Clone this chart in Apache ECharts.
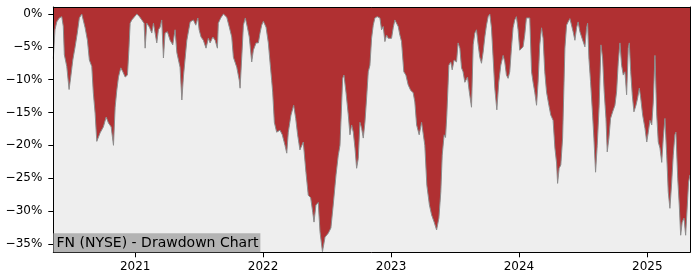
<!DOCTYPE html>
<html>
<head>
<meta charset="utf-8">
<script src="https://cdn.jsdelivr.net/npm/echarts@6/dist/echarts.min.js"></script>
<style>html,body{margin:0;padding:0;background:#fff;}#c{width:700px;height:280px;}</style>
</head>
<body>
<div id="c"></div>
<script>
// Dates as decimal years
var dateYears = [2020.362,2020.375,2020.389,2020.409,2020.428,2020.440,2020.448,2020.467,2020.485,2020.498,2020.514,2020.532,2020.549,2020.565,2020.584,2020.596,2020.610,2020.628,2020.643,2020.662,2020.674,2020.688,2020.701,2020.727,2020.752,2020.774,2020.792,2020.813,2020.831,2020.844,2020.857,2020.870,2020.888,2020.904,2020.922,2020.940,2020.951,2020.961,2020.974,2020.987,
2021.013,2021.034,2021.052,2021.070,2021.078,2021.091,2021.112,2021.130,2021.143,2021.156,2021.169,2021.182,2021.195,2021.208,2021.221,2021.234,2021.252,2021.273,2021.294,2021.312,2021.326,2021.351,2021.365,2021.377,2021.404,2021.430,2021.455,2021.474,2021.490,2021.500,2021.515,2021.533,2021.554,2021.572,2021.586,2021.607,2021.625,2021.643,2021.650,2021.669,2021.690,2021.716,2021.736,2021.755,2021.768,2021.794,2021.814,2021.820,2021.836,2021.846,2021.861,2021.877,2021.892,2021.911,2021.924,2021.945,2021.963,2021.976,2021.989,
2022.002,2022.023,2022.041,2022.054,2022.067,2022.075,2022.088,2022.106,2022.132,2022.150,2022.171,2022.185,2022.197,2022.218,2022.239,2022.255,2022.270,2022.288,2022.302,2022.314,2022.335,2022.353,2022.372,2022.388,2022.398,2022.413,2022.431,2022.445,2022.464,2022.484,2022.509,2022.530,2022.548,2022.570,2022.587,2022.601,2022.622,2022.632,2022.648,2022.666,2022.679,2022.692,2022.705,2022.718,2022.731,2022.744,2022.757,2022.770,2022.783,2022.796,2022.809,2022.822,2022.835,2022.848,2022.861,2022.874,2022.892,2022.913,2022.926,2022.939,2022.952,2022.965,2022.978,2022.991,
2023.004,2023.017,2023.030,2023.043,2023.056,2023.069,2023.082,2023.100,2023.116,2023.134,2023.153,2023.173,2023.186,2023.200,2023.220,2023.239,2023.251,2023.264,2023.280,2023.300,2023.317,2023.337,2023.356,2023.374,2023.389,2023.400,2023.415,2023.426,2023.436,2023.452,2023.467,2023.478,2023.493,2023.512,2023.524,2023.538,2023.551,2023.563,2023.577,2023.598,2023.610,2023.629,2023.642,2023.655,2023.668,2023.681,2023.694,2023.707,2023.720,2023.733,2023.746,2023.759,2023.772,2023.785,2023.798,2023.811,2023.827,2023.842,2023.858,2023.876,2023.889,2023.902,2023.915,2023.928,2023.941,2023.954,2023.967,2023.980,2023.993,
2024.006,2024.019,2024.032,2024.045,2024.058,2024.071,2024.084,2024.098,2024.110,2024.123,2024.137,2024.149,2024.162,2024.176,2024.188,2024.201,2024.215,2024.233,2024.248,2024.266,2024.280,2024.293,2024.301,2024.313,2024.326,2024.340,2024.350,2024.358,2024.371,2024.383,2024.397,2024.410,2024.422,2024.436,2024.449,2024.461,2024.475,2024.488,2024.500,2024.514,2024.527,2024.535,2024.545,2024.558,2024.574,2024.584,2024.597,2024.610,2024.625,2024.639,2024.652,2024.664,2024.678,2024.688,2024.701,2024.714,2024.730,2024.748,2024.761,2024.774,2024.787,2024.800,2024.813,2024.826,2024.839,2024.852,2024.860,2024.871,2024.883,2024.896,2024.912,2024.925,2024.938,2024.949,2024.964,2024.982,2024.996,
2025.008,2025.021,2025.035,2025.047,2025.060,2025.074,2025.086,2025.099,2025.113,2025.125,2025.138,2025.152,2025.164,2025.177,2025.191,2025.203,2025.216,2025.224,2025.238,2025.250,2025.261,2025.273,2025.287,2025.300,2025.313,2025.323,2025.334];

// Drawdown, percent
var drawdown = [-6.8,-2.4,-1.2,-0.6,-0.4,-1.9,-6.2,-8.0,-11.5,-9.6,-7.0,-5.0,-2.9,-0.6,0,-0.2,-2.1,-4.0,-7.0,-8.0,-12.0,-15.1,-19.4,-18.1,-17.2,-15.7,-16.6,-17.2,-20.0,-14.2,-11.6,-9.6,-8.2,-8.8,-9.6,-9.3,-5.5,-1.4,-0.9,-1.2,
0,-0.4,-0.9,-1.4,-5.2,-1.4,-2.0,-2.9,-1.4,-1.4,-4.4,-2.4,-2.0,-0.9,-6.7,-2.9,-2.7,-4.0,-4.7,-2.4,-5.9,-8.1,-13.1,-9.6,-4.0,-1.2,-0.9,-1.7,-0.6,-2.4,-3.5,-4.0,-5.2,-3.7,-4.4,-3.5,-4.0,-5.2,-1.4,-0.6,0,-0.5,-2.0,-3.5,-6.6,-8.1,-10.1,-11.3,-5.5,-1.7,-0.6,-2.0,-3.5,-7.3,-5.5,-4.4,-4.4,-2.9,-1.7,
-1.1,-2.0,-4.4,-7.3,-10.1,-11.9,-16.5,-18.0,-17.7,-18.4,-20.0,-21.2,-18.0,-15.4,-13.9,-15.9,-18.4,-20.7,-21.0,-19.5,-24.1,-27.6,-28.0,-30.2,-31.7,-29.1,-28.7,-33.2,-36.2,-34.0,-33.4,-32.6,-29.1,-24.5,-21.6,-20.0,-9.8,-9.3,-11.9,-15.4,-18.4,-16.9,-18.0,-20.4,-23.5,-22.0,-16.5,-17.4,-18.9,-16.5,-12.8,-8.8,-7.8,-3.7,-1.7,-0.6,-0.4,-0.6,-2.4,-1.9,-4.2,-3.2,-3.7,-3.5,
-3.7,-2.1,-0.9,-0.6,-1.9,-3.2,-4.2,-8.8,-9.3,-10.8,-11.6,-12.0,-13.4,-16.9,-18.4,-16.5,-16.2,-20.0,-26.1,-29.1,-30.6,-31.7,-32.9,-31.1,-27.1,-21.5,-18.4,-18.8,-15.4,-7.8,-7.3,-8.5,-7.0,-7.3,-4.4,-5.2,-8.2,-8.8,-10.4,-9.6,-11.6,-14.2,-4.7,-2.9,-2.4,-4.7,-6.6,-7.5,-5.8,-3.5,-1.7,-0.4,0,-2.1,-6.7,-11.3,-14.6,-10.4,-7.8,-6.3,-7.3,-9.3,-9.8,-8.8,-5.2,-2.1,-0.9,-0.4,-2.4,
-5.5,-5.2,-5.0,-3.2,-0.6,-0.3,-0.6,-8.8,-10.4,-11.9,-13.9,-10.4,-4.7,-2.1,-3.7,-8.8,-11.9,-13.9,-15.4,-16.2,-20.4,-22.7,-25.8,-23.5,-23.0,-18.9,-11.3,-5.2,-1.7,-1.2,-0.7,-0.9,-2.7,-4.0,-2.1,-1.2,-2.7,-3.5,-4.2,-5.0,-2.1,-1.4,-6.7,-10.3,-15.4,-18.9,-24.1,-20.0,-13.9,-4.7,-6.7,-11.8,-15.9,-21.0,-18.9,-15.9,-14.9,-13.9,-11.8,-7.3,-4.4,-7.8,-9.3,-8.8,-12.3,-5.2,-4.4,-8.8,-12.3,-14.9,-13.9,-12.8,-11.3,-12.8,-15.4,-17.4,-19.5,
-18.0,-16.2,-16.9,-13.4,-6.3,-15.4,-19.5,-20.4,-22.6,-18.9,-15.9,-21.5,-27.1,-29.6,-25.6,-21.5,-18.4,-18.0,-25.0,-29.1,-33.7,-31.7,-31.1,-33.7,-29.1,-25.6,-24.5];

var yearTicks = [2021, 2022, 2023, 2024, 2025];
var pctTicks = [0, -5, -10, -15, -20, -25, -30, -35];
var chartTitle = 'FN (NYSE) - Drawdown Chart';

function toTs(dy) {
  var y = Math.floor(dy);
  var a = Date.UTC(y, 0, 1), b = Date.UTC(y + 1, 0, 1);
  return a + (dy - y) * (b - a);
}
var seriesData = dateYears.map(function (d, i) { return [toTs(d), drawdown[i]]; });
var yearTs = yearTicks.map(function (y) { return Date.UTC(y, 0, 1); });
var xMin = toTs(dateYears[0]), xMax = toTs(dateYears[dateYears.length - 1]);

var FONT = 'DejaVu Sans';
var chart = echarts.init(document.getElementById('c'), null, { renderer: 'canvas' });
chart.setOption({
  animation: false,
  backgroundColor: '#ffffff',
  grid: {
    left: 53.3, right: 10, top: 7, bottom: 27.7,
    show: true, backgroundColor: '#b03032', borderWidth: 0
  },
  title: {
    text: chartTitle,
    left: 53.5, top: 233.3,
    padding: [3, 2, 2, 3],
    backgroundColor: '#b3b3b3',
    textStyle: { fontFamily: FONT, fontSize: 14, fontWeight: 'normal', color: '#000', lineHeight: 14 },
    z: 20
  },
  xAxis: [{
    type: 'value',
    min: xMin, max: xMax, scale: true,
    z: 10,
    axisLine: { show: true, onZero: false, lineStyle: { color: '#000', width: 1 } },
    axisTick: { show: true, length: 5, lineStyle: { color: '#000' }, customValues: yearTs },
    axisLabel: {
      customValues: yearTs, margin: 9, color: '#000', fontFamily: FONT, fontSize: 12,
      formatter: function (v) { return String(new Date(v).getUTCFullYear()); }
    },
    splitLine: { show: false }
  }, {
    type: 'value', position: 'top', z: 10,
    min: xMin, max: xMax, scale: true,
    axisLine: { show: true, onZero: false, lineStyle: { color: '#000', width: 1 } },
    axisTick: { show: false }, axisLabel: { show: false }, splitLine: { show: false }
  }],
  yAxis: [{
    type: 'value', min: -36.3, max: 1.07, z: 10,
    axisLine: { show: true, onZero: false, lineStyle: { color: '#000', width: 1 } },
    axisTick: { show: true, length: 5, lineStyle: { color: '#000' }, customValues: pctTicks },
    axisLabel: {
      customValues: pctTicks, margin: 11, color: '#000', fontFamily: FONT, fontSize: 12,
      formatter: function (v) { return v === 0 ? '0%' : '\u2212' + Math.abs(v) + '%'; }
    },
    splitLine: { show: false }
  }, {
    type: 'value', position: 'right', min: -36.3, max: 1.07, z: 10,
    axisLine: { show: true, onZero: false, lineStyle: { color: '#000', width: 1 } },
    axisTick: { show: false }, axisLabel: { show: false }, splitLine: { show: false }
  }],
  series: [{
    type: 'line',
    data: seriesData,
    xAxisIndex: 0, yAxisIndex: 0,
    symbol: 'none',
    lineStyle: { color: '#8c8c8c', width: 1 },
    areaStyle: { color: '#eeeeee', opacity: 1, origin: 'start' },
    z: 2
  }]
});
</script>
</body>
</html>
